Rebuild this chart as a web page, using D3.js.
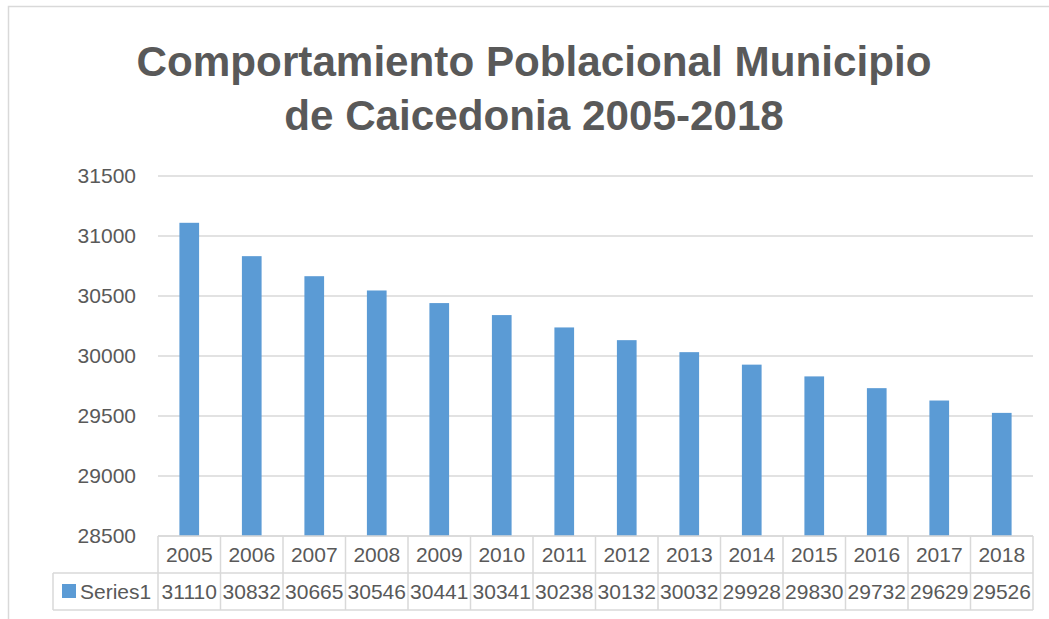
<!DOCTYPE html>
<html>
<head>
<meta charset="utf-8">
<script src="https://cdn.jsdelivr.net/npm/d3@7"></script>
<style>
  body { margin: 0; background: #fff; }
  text { font-family: "Liberation Sans", Arial, sans-serif; fill: #595959; }
</style>
</head>
<body>
<div id="chart"></div>
<script>
var titleLines = ['Comportamiento Poblacional Municipio', 'de Caicedonia 2005-2018'];
var years = ['2005', '2006', '2007', '2008', '2009', '2010', '2011', '2012', '2013', '2014', '2015', '2016', '2017', '2018'];
var population = [31110, 30832, 30665, 30546, 30441, 30341, 30238, 30132, 30032, 29928, 29830, 29732, 29629, 29526];
var yTicks = [28500, 29000, 29500, 30000, 30500, 31000, 31500];
var seriesName = 'Series1';

var width = 1049;
var height = 619;
var blue = '#5B9BD5';
var lineGray = '#d9d9d9';
var fontSize = '21px';

var plotLeft = 158, plotRight = 1033, plotTop = 176, plotBottom = 536;
var rowH = 37;

var svg = d3.select('#chart')
            .append('svg')
            .attr('width', width)
            .attr('height', height);

// outer chart frame
svg.append('rect')
   .attr('x', 8.5).attr('y', 6.5)
   .attr('width', 1100).attr('height', 700)
   .attr('fill', 'none')
   .attr('stroke', lineGray)
   .attr('stroke-width', 1.5);

// title, sized so the first line spans the same width as the picture
var title = svg.append('g');
titleLines.forEach(function(t, i) {
  title.append('text')
       .attr('x', 534)
       .attr('y', 76 + i * 54)
       .attr('text-anchor', 'middle')
       .style('font-weight', 'bold')
       .style('font-size', '40px')
       .text(t);
});
var w0 = title.select('text').node().getComputedTextLength();
title.selectAll('text').style('font-size', (40 * 795 / w0) + 'px');

var x = d3.scaleBand()
          .domain(years)
          .range([plotLeft, plotRight])
          .paddingInner(0.685)
          .paddingOuter(0.3425);

var xCell = d3.scaleBand()
              .domain(years)
              .range([plotLeft, plotRight]);

var y = d3.scaleLinear()
          .domain([28500, 31500])
          .range([plotBottom, plotTop]);

// gridlines
svg.append('g')
   .selectAll('line')
   .data(yTicks)
   .enter()
   .append('line')
   .attr('x1', plotLeft).attr('x2', plotRight)
   .attr('y1', d => y(d)).attr('y2', d => y(d))
   .attr('stroke', lineGray)
   .attr('stroke-width', 1.5);

// y labels
var yAxis = d3.axisLeft(y).tickValues(yTicks).tickFormat(d3.format('d')).tickSize(0).tickPadding(0);
var ya = svg.append('g')
            .attr('transform', 'translate(136,0)')
            .call(yAxis);
ya.select('.domain').remove();
ya.selectAll('text')
  .style('font-size', fontSize)
  .style('font-family', '"Liberation Sans", Arial, sans-serif')
  .attr('fill', '#595959');

// bars
svg.append('g')
   .selectAll('rect')
   .data(population)
   .enter()
   .append('rect')
   .attr('x', (d, i) => x(years[i]))
   .attr('width', x.bandwidth())
   .attr('y', d => y(d))
   .attr('height', d => y(28500) - y(d))
   .attr('fill', blue);

// data table
var tbl = svg.append('g').attr('stroke', lineGray).attr('stroke-width', 1.5).attr('fill', 'none');
var row1 = plotBottom, row2 = plotBottom + rowH, row3 = plotBottom + rowH * 2;
tbl.append('line').attr('x1', plotLeft).attr('x2', plotRight).attr('y1', row1).attr('y2', row1);
tbl.append('line').attr('x1', 53).attr('x2', plotRight).attr('y1', row2).attr('y2', row2);
tbl.append('line').attr('x1', 53).attr('x2', plotRight).attr('y1', row3).attr('y2', row3);
tbl.append('line').attr('x1', 53).attr('x2', 53).attr('y1', row2).attr('y2', row3);
tbl.selectAll('.vline')
   .data(years.concat(['end']))
   .enter()
   .append('line')
   .attr('x1', d => d === 'end' ? plotRight : xCell(d))
   .attr('x2', d => d === 'end' ? plotRight : xCell(d))
   .attr('y1', row1).attr('y2', row3);

svg.append('g')
   .selectAll('text')
   .data(years)
   .enter()
   .append('text')
   .attr('x', d => xCell(d) + xCell.bandwidth() / 2)
   .attr('y', row1 + rowH / 2)
   .attr('dy', '0.35em')
   .attr('text-anchor', 'middle')
   .style('font-size', fontSize)
   .text(d => d);

svg.append('g')
   .selectAll('text')
   .data(population)
   .enter()
   .append('text')
   .attr('x', (d, i) => xCell(years[i]) + xCell.bandwidth() / 2)
   .attr('y', row2 + rowH / 2)
   .attr('dy', '0.35em')
   .attr('text-anchor', 'middle')
   .style('font-size', fontSize)
   .text(d => d);

// legend key
svg.append('rect')
   .attr('x', 62).attr('y', row2 + 11)
   .attr('width', 14).attr('height', 14)
   .attr('fill', blue);
svg.append('text')
   .attr('x', 80)
   .attr('y', row2 + rowH / 2)
   .attr('dy', '0.35em')
   .style('font-size', fontSize)
   .text(seriesName);
</script>
</body>
</html>
